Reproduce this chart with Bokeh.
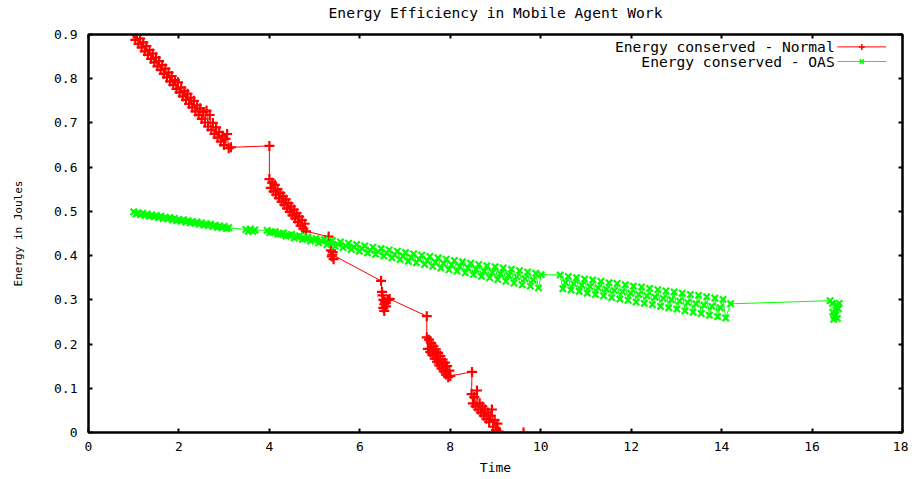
from bokeh.plotting import figure
from bokeh.models import LinearAxis, FixedTicker, Range1d
from bokeh.core.properties import value
from bokeh.embed import file_html
from bokeh.resources import INLINE

# ---------------- data ----------------
title_text = "Energy Efficiency in Mobile Agent Work"
x_label = "Time"
y_label = "Energy in Joules"
series_names = ["Energy conserved - Normal", "Energy conserved - OAS"]

x_ticks = [0, 2, 4, 6, 8, 10, 12, 14, 16, 18]
x_tick_labels = ["0", "2", "4", "6", "8", "10", "12", "14", "16", "18"]
y_ticks = [0, 0.1, 0.2, 0.3, 0.4, 0.5, 0.6, 0.7, 0.8, 0.9]
y_tick_labels = ["0", "0.1", "0.2", "0.3", "0.4", "0.5", "0.6", "0.7", "0.8", "0.9"]

normal_time = [
    1.000, 1.035, 1.070, 1.105, 1.140, 1.175, 1.210, 1.245, 1.280, 1.315, 1.350, 1.385, 1.420, 1.455, 1.490, 1.525,
    1.560, 1.595, 1.630, 1.665, 1.700, 1.735, 1.770, 1.805, 1.840, 1.875, 1.910, 1.945, 1.980, 2.015, 2.050, 2.085,
    2.120, 2.155, 2.190, 2.225, 2.260, 2.295, 2.330, 2.365, 2.400, 2.435, 2.470, 2.505, 2.540, 2.575, 2.610, 2.645,
    2.680, 2.715, 2.750, 2.785, 2.820, 2.855, 2.890, 2.925, 2.960, 2.995, 3.030, 3.065, 3.100,
    3.15, 4.00,
    4.00, 4.03, 4.06, 4.09, 4.12, 4.15, 4.18, 4.21, 4.24, 4.27, 4.30, 4.33, 4.36, 4.39, 4.42, 4.45,
    4.48, 4.51, 4.54, 4.57, 4.60, 4.63, 4.66, 4.69, 4.72, 4.75, 4.78, 4.81,
    5.31, 5.36, 5.38, 5.40, 5.42, 5.39,
    6.47, 6.49, 6.52, 6.50, 6.54, 6.52, 6.56, 6.54, 6.58, 6.62, 6.66,
    7.48, 7.480, 7.505, 7.530, 7.555, 7.580, 7.605, 7.630, 7.655, 7.680, 7.705, 7.730, 7.755, 7.780, 7.805, 7.830,
    7.855, 7.880, 7.905, 7.930, 7.955, 7.980, 8.000,
    8.48, 8.47, 8.50, 8.53, 8.56, 8.59, 8.62, 8.65, 8.68, 8.71, 8.74, 8.77, 8.80, 8.83, 8.86, 8.89, 8.92,
    8.95, 8.98, 9.01, 9.04, 9.07, 9.10,
    9.62,
]
normal_energy = [
    0.902, 0.888, 0.899, 0.879, 0.891, 0.871, 0.882, 0.862, 0.874, 0.854, 0.865, 0.845, 0.857, 0.837, 0.848, 0.828,
    0.840, 0.820, 0.831, 0.811, 0.823, 0.803, 0.814, 0.794, 0.806, 0.786, 0.797, 0.777, 0.792, 0.769, 0.780, 0.760,
    0.772, 0.752, 0.766, 0.743, 0.757, 0.735, 0.750, 0.726, 0.740, 0.718, 0.733, 0.709, 0.725, 0.701, 0.728, 0.692,
    0.718, 0.684, 0.700, 0.675, 0.690, 0.667, 0.680, 0.658, 0.670, 0.650, 0.664, 0.675, 0.643,
    0.645, 0.648,
    0.573, 0.553, 0.565, 0.545, 0.560, 0.538, 0.550, 0.530, 0.542, 0.522, 0.534, 0.515, 0.527, 0.507, 0.519, 0.499,
    0.511, 0.491, 0.504, 0.484, 0.496, 0.476, 0.488, 0.468, 0.480, 0.461, 0.472, 0.455,
    0.443, 0.412, 0.398, 0.408, 0.392, 0.402,
    0.343, 0.318, 0.300, 0.310, 0.290, 0.282, 0.295, 0.275, 0.285, 0.300, 0.302,
    0.263, 0.215, 0.189, 0.210, 0.182, 0.202, 0.175, 0.195, 0.167, 0.188, 0.160, 0.180, 0.152, 0.173, 0.145, 0.165,
    0.138, 0.158, 0.131, 0.150, 0.125, 0.140, 0.128,
    0.137, 0.087, 0.066, 0.080, 0.059, 0.095, 0.052, 0.066, 0.045, 0.059, 0.038, 0.052, 0.031, 0.045, 0.024, 0.038, 0.052,
    0.013, 0.028, 0.006, 0.020, 0.002, 0.000,
    0.000,
]

oas_time = [
    1.00, 1.05, 1.10, 1.15, 1.20, 1.25, 1.30, 1.35, 1.40, 1.45, 1.50, 1.55, 1.60, 1.65, 1.70, 1.75,
    1.80, 1.85, 1.90, 1.95, 2.00, 2.05, 2.10, 2.15, 2.20, 2.25, 2.30, 2.35, 2.40, 2.45, 2.50, 2.55,
    2.60, 2.65, 2.70, 2.75, 2.80, 2.85, 2.90, 2.95, 3.00, 3.05, 3.10,
    3.48, 3.53, 3.58, 3.63, 3.68,
    3.95, 4.01, 4.07, 4.13, 4.19, 4.25, 4.31, 4.37, 4.43, 4.49, 4.55, 4.61, 4.67, 4.73, 4.79, 4.85,
    4.91, 4.97, 5.03, 5.09, 5.15, 5.21, 5.27, 5.33, 5.39, 5.45, 5.51, 5.57, 5.63, 5.69, 5.75, 5.81,
    5.87, 5.93, 5.99, 6.05, 6.11, 6.17, 6.23, 6.29, 6.35, 6.41, 6.47, 6.53, 6.59, 6.65, 6.71, 6.77,
    6.83, 6.89, 6.95, 7.01, 7.07, 7.13, 7.19, 7.25, 7.31, 7.37, 7.43, 7.49, 7.55, 7.61, 7.67, 7.73,
    7.79, 7.85, 7.91, 7.97, 8.03, 8.09, 8.15, 8.21, 8.27, 8.33, 8.39, 8.45, 8.51, 8.57, 8.63, 8.69,
    8.75, 8.81, 8.87, 8.93, 8.99, 9.05, 9.11, 9.17, 9.23, 9.29, 9.35, 9.41, 9.47, 9.53, 9.59, 9.65,
    9.71, 9.77, 9.83, 9.89, 9.95, 10.01,
    10.43, 10.49, 10.55, 10.61, 10.67, 10.73, 10.79, 10.85, 10.91, 10.97, 11.03, 11.09, 11.15, 11.21, 11.27, 11.33,
    11.39, 11.45, 11.51, 11.57, 11.63, 11.69, 11.75, 11.81, 11.87, 11.93, 11.99, 12.05, 12.11, 12.17, 12.23, 12.29,
    12.35, 12.41, 12.47, 12.53, 12.59, 12.65, 12.71, 12.77, 12.83, 12.89, 12.95, 13.01, 13.07, 13.13, 13.19, 13.25,
    13.31, 13.37, 13.43, 13.49, 13.55, 13.61, 13.67, 13.73, 13.79, 13.85, 13.91, 13.97, 14.03, 14.09,
    14.20, 16.40,
    16.45, 16.50, 16.55, 16.48, 16.58, 16.52, 16.60, 16.46, 16.56,
]
oas_energy = [
    0.499, 0.494, 0.497, 0.493, 0.496, 0.491, 0.494, 0.489, 0.492, 0.488, 0.491, 0.486, 0.489, 0.484, 0.487, 0.483,
    0.486, 0.481, 0.484, 0.479, 0.482, 0.478, 0.481, 0.476, 0.479, 0.474, 0.477, 0.473, 0.476, 0.471, 0.474, 0.469,
    0.472, 0.468, 0.471, 0.466, 0.469, 0.464, 0.467, 0.463, 0.466, 0.461, 0.463,
    0.459, 0.455, 0.460, 0.455, 0.458,
    0.457, 0.452, 0.453, 0.454, 0.448, 0.449, 0.451, 0.444, 0.446, 0.448, 0.440, 0.443, 0.445, 0.437, 0.439, 0.442,
    0.433, 0.436, 0.439, 0.429, 0.433, 0.436, 0.425, 0.429, 0.434, 0.421, 0.426, 0.431, 0.418, 0.422, 0.428, 0.414,
    0.419, 0.425, 0.410, 0.416, 0.422, 0.406, 0.412, 0.419, 0.403, 0.409, 0.416, 0.399, 0.406, 0.413, 0.395, 0.402,
    0.410, 0.391, 0.399, 0.407, 0.387, 0.396, 0.404, 0.384, 0.392, 0.401, 0.380, 0.389, 0.398, 0.376, 0.385, 0.395,
    0.372, 0.382, 0.392, 0.368, 0.379, 0.389, 0.365, 0.375, 0.386, 0.361, 0.372, 0.383, 0.357, 0.369, 0.380, 0.353,
    0.365, 0.377, 0.350, 0.362, 0.375, 0.346, 0.359, 0.372, 0.342, 0.355, 0.369, 0.338, 0.352, 0.366, 0.334, 0.348,
    0.363, 0.331, 0.345, 0.360, 0.327, 0.357,
    0.356, 0.325, 0.339, 0.353, 0.322, 0.336, 0.350, 0.319, 0.333, 0.347, 0.315, 0.330, 0.345, 0.312, 0.327, 0.342,
    0.309, 0.324, 0.339, 0.305, 0.321, 0.337, 0.302, 0.318, 0.334, 0.299, 0.315, 0.331, 0.295, 0.312, 0.329, 0.292,
    0.309, 0.326, 0.289, 0.306, 0.323, 0.285, 0.303, 0.320, 0.282, 0.300, 0.318, 0.279, 0.297, 0.315, 0.275, 0.294,
    0.312, 0.272, 0.291, 0.310, 0.269, 0.288, 0.307, 0.265, 0.285, 0.304, 0.262, 0.282, 0.301, 0.259,
    0.291, 0.298,
    0.292, 0.262, 0.288, 0.256, 0.280, 0.266, 0.292, 0.272, 0.258,
]

assert len(normal_time) == len(normal_energy), (len(normal_time), len(normal_energy))
assert len(oas_time) == len(oas_energy), (len(oas_time), len(oas_energy))

RED = "#ff0000"
GREEN = "#00ff00"
MONO = "DejaVu Sans Mono"

# ---------------- figure ----------------
p = figure(
    width=908, height=477,
    x_range=Range1d(0, 18), y_range=Range1d(0, 0.9),
    output_backend="svg", toolbar_location=None,
    title=None,
    min_border_left=88, min_border_right=6, min_border_top=33, min_border_bottom=44,
    background_fill_color="white", border_fill_color="white",
)

p.xgrid.visible = False
p.ygrid.visible = False
p.outline_line_color = "black"
p.outline_line_width = 2
p.outline_line_alpha = 1.0

x_over = {t: s for t, s in zip(x_ticks, x_tick_labels)}
y_over = {t: s for t, s in zip(y_ticks, y_tick_labels)}
x_blank = {t: "" for t in x_ticks}
y_blank = {t: "" for t in y_ticks}


def style_axis(ax, ticks, overrides, show_labels):
    ax.ticker = FixedTicker(ticks=ticks)
    ax.major_label_overrides = overrides
    ax.axis_line_color = "black"
    ax.axis_line_width = 2
    ax.major_tick_line_color = "black"
    ax.major_tick_line_width = 2
    ax.major_tick_in = 4
    ax.major_tick_out = 0
    ax.minor_tick_line_color = None
    ax.major_label_text_font = MONO
    ax.major_label_text_color = "black"
    ax.major_label_text_font_size = "13px"
    if not show_labels:
        ax.major_label_standoff = 0


style_axis(p.xaxis[0], x_ticks, x_over, True)
style_axis(p.yaxis[0], y_ticks, y_over, True)
p.xaxis[0].major_label_standoff = 9
p.yaxis[0].major_label_standoff = 11

p.xaxis[0].axis_label = x_label
p.xaxis[0].axis_label_text_font = MONO
p.xaxis[0].axis_label_text_font_size = "13px"
p.xaxis[0].axis_label_text_font_style = "normal"
p.xaxis[0].axis_label_text_color = "black"
p.xaxis[0].axis_label_standoff = 6

p.yaxis[0].axis_label = y_label
p.yaxis[0].axis_label_text_font = MONO
p.yaxis[0].axis_label_text_font_size = "11px"
p.yaxis[0].axis_label_text_font_style = "normal"
p.yaxis[0].axis_label_text_color = "black"
p.yaxis[0].axis_label_standoff = 26

# mirrored top axis (ticks only); it also carries the chart title, gnuplot style
top_axis = LinearAxis()
style_axis(top_axis, x_ticks, x_blank, False)
top_axis.axis_label = title_text
top_axis.axis_label_text_font = MONO
top_axis.axis_label_text_font_size = "14.6px"
top_axis.axis_label_text_font_style = "normal"
top_axis.axis_label_text_color = "black"
top_axis.axis_label_standoff = 14
p.add_layout(top_axis, "above")

right_axis = LinearAxis()
style_axis(right_axis, y_ticks, y_blank, False)
p.add_layout(right_axis, "right")

# ---------------- series ----------------
p.line(normal_time, normal_energy, line_color=RED, line_width=1)
p.scatter(normal_time, normal_energy, marker="cross", size=10, line_color=RED, line_width=2.2)

p.line(oas_time, oas_energy, line_color=GREEN, line_width=1)
p.scatter(oas_time, oas_energy, marker="x", size=9, line_color=GREEN, line_width=2.2)

# ---------------- gnuplot-style key (top right, text right-aligned) ----------------
key_text_x = 16.50
key_x0, key_x1 = 16.56, 17.64
key_rows = [0.872, 0.839]
key_colors = [RED, GREEN]
key_markers = ["cross", "x"]
for name, yk, col, mk in zip(series_names, key_rows, key_colors, key_markers):
    p.text(x=[key_text_x], y=[yk], text=[name], text_align="right", text_baseline="middle",
           text_font=value(MONO), text_font_size="14.6px", text_color="black")
    p.line([key_x0, key_x1], [yk, yk], line_color=col, line_width=1)
    p.scatter([(key_x0 + key_x1) / 2], [yk], marker=mk, size=6, line_color=col, line_width=1.5)

open("out.html", "w").write(file_html(p, INLINE))
